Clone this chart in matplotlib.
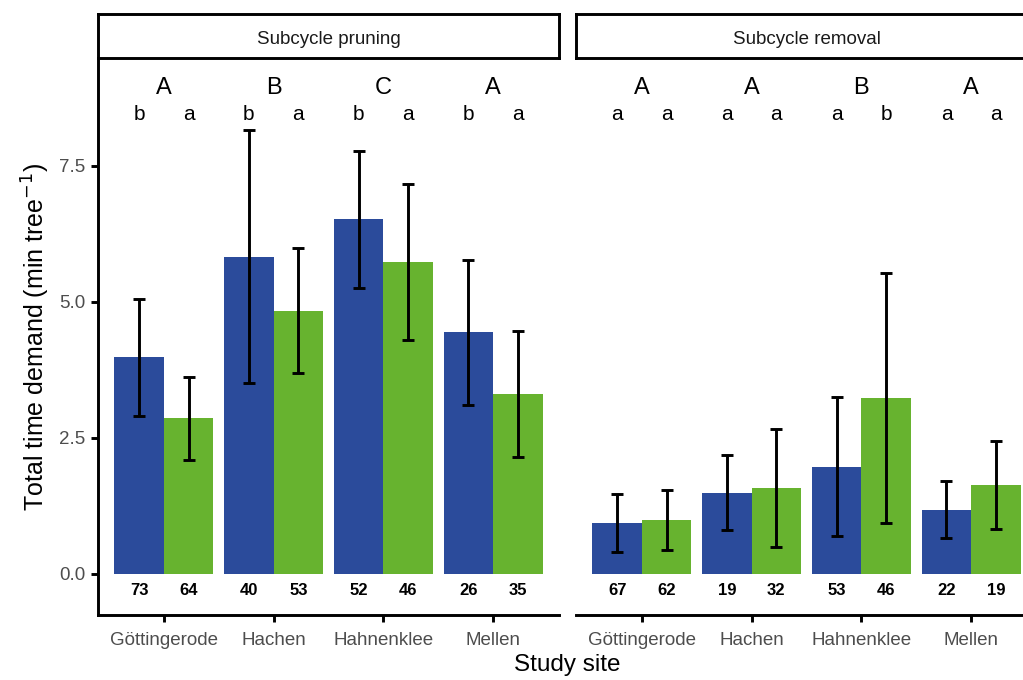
import numpy as np
import matplotlib
matplotlib.use("Agg")
import matplotlib.pyplot as plt

plt.rcParams['font.family'] = ['Liberation Sans', 'DejaVu Sans']

sites = ["Göttingerode", "Hachen", "Hahnenklee", "Mellen"]
panels = ["Subcycle pruning", "Subcycle removal"]

# mean, lower and upper error bar ends: [panel][site]
blue_mean = [[3.98, 5.83, 6.52, 4.44], [0.93, 1.48, 1.97, 1.18]]
blue_lo = [[2.90, 3.51, 5.25, 3.11], [0.40, 0.80, 0.70, 0.67]]
blue_hi = [[5.05, 8.17, 7.78, 5.78], [1.47, 2.18, 3.25, 1.71]]
green_mean = [[2.86, 4.84, 5.73, 3.31], [0.99, 1.58, 3.24, 1.64]]
green_lo = [[2.10, 3.70, 4.31, 2.15], [0.44, 0.50, 0.93, 0.83]]
green_hi = [[3.63, 5.99, 7.16, 4.47], [1.55, 2.67, 5.54, 2.44]]

blue_n = [[73, 40, 52, 26], [67, 19, 53, 22]]
green_n = [[64, 53, 46, 35], [62, 32, 46, 19]]

site_letters = [["A", "B", "C", "A"], ["A", "A", "B", "A"]]
blue_letters = [["b", "b", "b", "b"], ["a", "a", "a", "a"]]
green_letters = [["a", "a", "a", "a"], ["a", "a", "b", "a"]]

yticks = [0.0, 2.5, 5.0, 7.5]

c_blue = "#2B4B9B"
c_green = "#67B32F"
gray = "#4D4D4D"

fig = plt.figure(figsize=(10.23, 6.8), dpi=100)

W, H = 1023.0, 680.0
ax_bottom = (H - 615) / H
ax_height = (615 - 58) / H
ax_width = 461 / W
lefts = [98 / W, 576 / W]
strip_h = 44 / H

x = np.arange(1, len(sites) + 1)
bw = 0.45
lw = 2.1

for p in range(2):
    ax = fig.add_axes([lefts[p], ax_bottom, ax_width, ax_height])
    ax.bar(x - bw / 2, blue_mean[p], width=bw, color=c_blue, zorder=2)
    ax.bar(x + bw / 2, green_mean[p], width=bw, color=c_green, zorder=2)
    bm = np.array(blue_mean[p]); gm = np.array(green_mean[p])
    ax.errorbar(x - bw / 2, bm, yerr=[bm - np.array(blue_lo[p]), np.array(blue_hi[p]) - bm],
                fmt="none", ecolor="black", elinewidth=2.1, capsize=4, capthick=2.1, zorder=3)
    ax.errorbar(x + bw / 2, gm, yerr=[gm - np.array(green_lo[p]), np.array(green_hi[p]) - gm],
                fmt="none", ecolor="black", elinewidth=2.1, capsize=4, capthick=2.1, zorder=3)

    for i in range(len(sites)):
        ax.text(x[i], 8.93, site_letters[p][i], ha="center", va="center", fontsize=17)
        ax.text(x[i] - bw / 2, 8.45, blue_letters[p][i], ha="center", va="center", fontsize=15)
        ax.text(x[i] + bw / 2, 8.45, green_letters[p][i], ha="center", va="center", fontsize=15)
        ax.text(x[i] - bw / 2, -0.3, str(blue_n[p][i]), ha="center", va="center",
                fontsize=12, fontweight="bold")
        ax.text(x[i] + bw / 2, -0.3, str(green_n[p][i]), ha="center", va="center",
                fontsize=12, fontweight="bold")

    ax.set_xlim(0.4, 4.6)
    ax.set_ylim(-0.754, 9.485)
    ax.set_xticks(x)
    ax.set_xticklabels(sites, fontsize=13.5, color=gray)
    ax.spines["top"].set_visible(False)
    ax.spines["right"].set_visible(False)
    ax.spines["bottom"].set_linewidth(lw)
    ax.tick_params(axis="x", length=5, width=lw, pad=7)
    if p == 0:
        ax.spines["left"].set_linewidth(lw)
        ax.set_yticks(yticks)
        ax.set_yticklabels(["%.1f" % v for v in yticks], fontsize=13.5, color=gray)
        ax.tick_params(axis="y", length=5, width=lw, pad=4)
        ax.set_ylabel("Total time demand (min tree$^{-1}$)", fontsize=18, labelpad=5)
    else:
        ax.spines["left"].set_visible(False)
        ax.set_yticks([])

    sax = fig.add_axes([lefts[p], ax_bottom + ax_height, ax_width, strip_h])
    sax.set_xticks([]); sax.set_yticks([])
    for s in sax.spines.values():
        s.set_linewidth(lw)
    sax.text(0.5, 0.47, panels[p], ha="center", va="center_baseline", fontsize=13.5,
             color="#1A1A1A", transform=sax.transAxes)

fig.text(567 / W, (H - 665) / H, "Study site", ha="center", va="center", fontsize=17.5)

fig.savefig("out.png", dpi=100)
